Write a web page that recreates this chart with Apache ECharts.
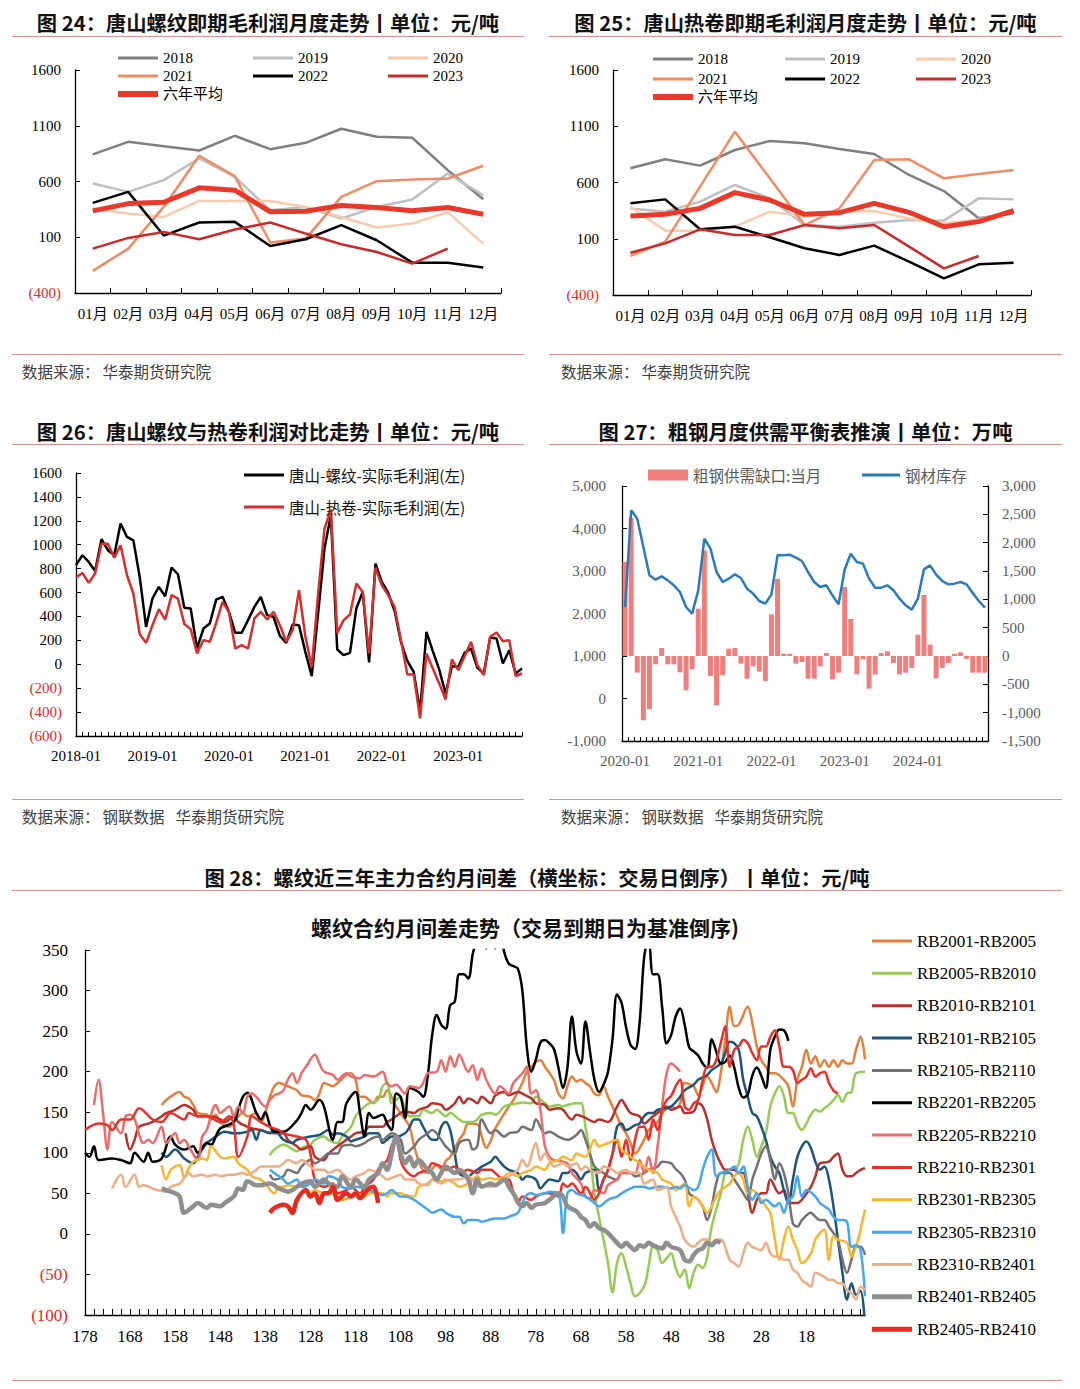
<!DOCTYPE html>
<html>
<head>
<meta charset="utf-8">
<title>华泰期货 钢材利润图表</title>
<script src="https://cdn.jsdelivr.net/npm/echarts/dist/echarts.min.js"></script>
<style>
html,body{margin:0;padding:0;background:#fff;}
body{position:relative;width:1080px;height:1389px;overflow:hidden;font-family:"Noto Sans CJK SC","Noto Sans",sans-serif;}
#chart{position:absolute;left:0;top:0;width:1080px;height:1389px;}
.t{position:absolute;font-weight:700;font-size:20.3px;line-height:24px;color:#111;text-align:center;white-space:nowrap;z-index:2;}
.st{font-size:21px;}
.rl{position:absolute;height:0;border-top:1.5px solid #D9918F;z-index:2;}
.src{position:absolute;font-size:15.5px;line-height:20px;color:#404040;white-space:nowrap;z-index:2;}
.gap{margin-left:11px;}
</style>
</head>
<body>
<div id="chart"></div>

<div class="t" style="left:12px;top:10px;width:512px;">图 24：唐山螺纹即期毛利润月度走势丨单位：元/吨</div>
<div class="t" style="left:549px;top:10px;width:513px;">图 25：唐山热卷即期毛利润月度走势丨单位：元/吨</div>
<div class="rl" style="left:12px;top:36px;width:512px;"></div>
<div class="rl" style="left:549px;top:36px;width:513px;"></div>
<div class="rl" style="left:12px;top:354px;width:512px;"></div>
<div class="rl" style="left:549px;top:354px;width:513px;"></div>
<div class="src" style="left:22px;top:361px;">数据来源：<span style="margin-left:3px">华泰期货研究院</span></div>
<div class="src" style="left:561px;top:361px;">数据来源：<span style="margin-left:3px">华泰期货研究院</span></div>

<div class="t" style="left:12px;top:419px;width:512px;">图 26：唐山螺纹与热卷利润对比走势丨单位：元/吨</div>
<div class="t" style="left:549px;top:419px;width:513px;">图 27：粗钢月度供需平衡表推演丨单位：万吨</div>
<div class="rl" style="left:12px;top:444px;width:512px;"></div>
<div class="rl" style="left:549px;top:444px;width:513px;"></div>
<div class="rl" style="left:12px;top:799px;width:512px;"></div>
<div class="rl" style="left:549px;top:799px;width:513px;"></div>
<div class="src" style="left:22px;top:806px;">数据来源：<span style="margin-left:3px">钢联数据</span><span class="gap">华泰期货研究院</span></div>
<div class="src" style="left:561px;top:806px;">数据来源：<span style="margin-left:3px">钢联数据</span><span class="gap">华泰期货研究院</span></div>

<div class="t" style="left:12px;top:865px;width:1050px;">图 28：螺纹近三年主力合约月间差（横坐标：交易日倒序）丨单位：元/吨</div>
<div class="rl" style="left:12px;top:890px;width:1050px;"></div>
<div class="t st" style="left:0px;top:915px;width:1050px;">螺纹合约月间差走势（交易到期日为基准倒序)</div>
<div class="rl" style="left:12px;top:1380px;width:1050px;"></div>

<script>
// ---------------- DATA ----------------
const monthCats = ['01月','02月','03月','04月','05月','06月','07月','08月','09月','10月','11月','12月'];
const yearNames = ['2018','2019','2020','2021','2022','2023'];
const avgName = '六年平均';

// 图24 唐山螺纹即期毛利润
const rebar2018 = [843,956,917,878,1010,890,947,1073,1001,992,702,441];
const rebar2019 = [582,507,612,807,642,342,372,268,372,438,672,477];
const rebar2020 = [357,312,282,426,426,426,372,282,187,223,325,43];
const rebar2021 = [-202,-2,372,831,648,52,88,462,603,618,627,741];
const rebar2022 = [408,507,115,232,238,22,82,208,73,-128,-128,-172];
const rebar2023 = [-2,94,148,82,169,232,133,37,-32,-137,-2];
const rebarAvg  = [337,402,414,543,522,328,334,385,367,337,367,307];

// 图25 唐山热卷即期毛利润
const hrc2018 = [726,806,750,889,969,948,898,853,667,524,282,326];
const hrc2019 = [370,341,430,578,459,222,207,243,267,261,459,450];
const hrc2020 = [385,172,172,207,341,296,341,347,281,237,272,350];
const hrc2021 = [-53,74,563,1052,637,222,370,800,806,637,676,711];
const hrc2022 = [415,450,184,207,113,15,-44,39,-104,-252,-127,-113];
const hrc2023 = [-24,59,184,133,133,222,193,222,30,-163,-53];
const hrcAvg  = [302,317,370,510,444,317,332,415,335,207,252,350];

// 图26 螺纹/热卷实际毛利润 (2018-01 起, 月度)
const profitRebar = [829,912,856,781,1046,954,912,1177,1065,1037,731,313,550,647,569,809,753,472,466,132,299,341,541,564,438,263,263,369,480,564,411,397,238,179,333,327,104,-99,425,968,1246,124,76,96,466,605,15,842,689,597,447,188,29,-63,-397,271,110,-43,-244,-16,-21,96,132,-30,-77,224,216,7,118,-77,-35];
const profitHrc = [725,764,681,759,1009,1009,892,996,745,592,252,179,327,461,374,578,550,336,294,90,202,188,347,522,438,132,160,132,383,438,374,438,327,188,285,619,230,-21,592,1135,1294,263,369,416,675,605,90,809,661,578,480,202,-85,-85,-453,90,-35,-160,-294,40,-49,68,188,-7,-91,230,266,193,202,-99,-77];
const names26 = ['唐山-螺纹-实际毛利润(左)','唐山-热卷-实际毛利润(左)'];

// 图27 粗钢供需缺口(右轴) / 钢材库存(左轴), 2020-01 起
const steelGap = [1659,2435,-294,-1135,-941,-147,141,-147,-147,-288,-606,-235,835,1865,-353,-870,-341,129,141,-135,-400,-182,-276,-441,735,1359,41,41,-135,-106,-400,-400,-182,53,-412,-294,1218,653,-324,-59,-576,-324,53,82,-124,-324,-294,-212,376,1076,200,-394,-212,-124,41,65,-53,-294,-294,-294];
const steelStock = [2150,4427,4231,3565,2898,2796,2875,2780,2663,2506,2153,1996,2545,3761,3525,2976,2741,2820,2922,2835,2584,2467,2294,2231,2451,3369,3369,3384,3314,3235,2976,2741,2624,2663,2427,2216,3031,3408,3212,3173,2820,2608,2608,2663,2545,2349,2192,2090,2349,3039,3133,2914,2765,2686,2702,2741,2686,2482,2294,2137];
const names27 = ['粗钢供需缺口:当月','钢材库存'];

// 图28 螺纹合约月间差: [距到期交易日, 价差]
const names28 = ['RB2001-RB2005','RB2005-RB2010','RB2010-RB2101','RB2101-RB2105','RB2105-RB2110','RB2201-RB2205','RB2205-RB2210','RB2210-RB2301','RB2301-RB2305','RB2305-RB2310','RB2310-RB2401','RB2401-RB2405','RB2405-RB2410'];
const rb2001 = [[161,159],[160,165],[158,173],[157,175],[156,169],[155,167],[154,159],[153,149],[151,147],[150,141],[149,147],[148,138],[146,132],[145,138],[143,149],[142,145],[140,149],[139,138],[137,169],[136,182],[135,186],[133,182],[131,177],[130,171],[128,169],[127,165],[126,173],[125,186],[123,182],[122,186],[120,196],[119,198],[118,190],[117,169],[116,169],[115,165],[114,161],[113,169],[112,169],[111,177],[109,157],[107,141],[106,132],[105,108],[104,90],[103,78],[102,75],[101,80],[100,85],[99,80],[98,90],[97,95],[95,116],[94,124],[93,136],[91,135],[90,120],[89,106],[88,115],[87,130],[84,157],[83,165],[81,186],[80,200],[79,206],[78,212],[77,214],[76,206],[74,190],[73,173],[72,167],[71,182],[70,194],[69,188],[68,190],[67,186],[66,182],[65,173],[64,171],[63,182],[62,169],[60,145],[59,132],[58,124],[57,112],[56,99],[54,116],[53,128],[51,138],[50,149],[48,157],[47,155],[46,161],[45,186],[43,182],[42,171],[40,194],[39,186],[38,175],[37,198],[36,239],[35,280],[34,256],[33,258],[31,280],[30,260],[29,231],[28,214],[27,206],[26,198],[25,198],[23,190],[22,182],[21,157],[20,190],[19,206],[18,227],[17,210],[16,219],[15,206],[14,214],[13,206],[12,214],[11,206],[10,214],[9,210],[8,210],[7,227],[6,243],[5,215]];
const rb2005 = [[137,97],[136,104],[134,110],[133,108],[131,102],[130,106],[128,110],[127,116],[125,120],[124,116],[122,112],[121,120],[119,132],[118,145],[116,157],[115,161],[113,165],[112,182],[111,186],[110,161],[109,165],[108,169],[107,153],[106,145],[104,145],[103,153],[101,149],[100,153],[98,145],[97,149],[95,141],[94,138],[92,138],[91,141],[90,147],[88,149],[87,147],[85,157],[84,159],[82,161],[81,162],[79,161],[78,169],[76,161],[75,157],[73,159],[72,157],[71,159],[69,161],[68,161],[67,132],[66,99],[65,50],[64,21],[63,-7],[62,-36],[61,-72],[60,-36],[59,-24],[58,-40],[57,-61],[56,-77],[54,-65],[53,-40],[52,-16],[51,-20],[50,-36],[49,-30],[48,-24],[47,-42],[46,-53],[45,-44],[44,-67],[43,-48],[42,-38],[41,-42],[40,-28],[39,9],[37,50],[36,75],[35,79],[34,79],[33,87],[32,116],[31,132],[30,116],[29,95],[28,108],[27,124],[26,157],[25,173],[24,182],[23,170],[22,149],[21,149],[20,136],[19,128],[18,136],[17,147],[16,153],[15,151],[14,155],[13,159],[12,165],[11,171],[10,163],[9,173],[8,175],[7,198],[5,200]];
const rb2010 = [[169,124],[168,104],[167,116],[166,132],[164,136],[163,138],[161,145],[160,149],[158,153],[156,159],[154,153],[153,145],[151,145],[150,145],[148,141],[147,138],[145,145],[144,138],[142,132],[141,130],[139,128],[138,126],[136,124],[134,124],[133,116],[131,108],[130,104],[128,108],[127,95],[125,91],[124,99],[122,108],[121,112],[119,120],[118,124],[116,126],[115,132],[113,132],[112,132],[111,138],[110,141],[108,149],[107,151],[105,149],[104,153],[102,157],[101,161],[99,159],[98,153],[96,161],[95,169],[94,161],[93,167],[92,165],[91,161],[90,169],[88,161],[87,171],[85,175],[84,171],[82,175],[81,173],[79,167],[78,161],[76,159],[75,153],[73,155],[72,153],[70,141],[69,147],[67,143],[65,138],[64,141],[62,138],[60,157],[59,165],[58,157],[57,149],[55,145],[54,136],[52,145],[51,149],[49,157],[48,153],[46,157],[45,149],[43,151],[42,161],[41,157],[40,141],[39,116],[38,99],[37,87],[36,79],[34,79],[33,75],[32,75],[31,50],[30,26],[29,42],[28,50],[27,50],[26,67],[24,50],[23,54],[22,38],[21,38],[20,38],[19,42],[17,58],[16,71],[15,87],[13,89],[12,95],[11,99],[10,79],[9,71],[8,71],[7,75],[6,79],[5,81]];
const rb2101 = [[161,100],[160,95],[158,104],[156,93],[154,87],[153,95],[151,112],[150,116],[148,124],[147,126],[145,124],[144,124],[142,126],[141,128],[140,116],[139,128],[137,124],[136,128],[134,116],[132,112],[131,116],[128,120],[126,122],[124,128],[123,122],[122,124],[120,120],[119,114],[118,116],[116,120],[115,124],[113,124],[112,112],[111,116],[110,120],[109,120],[107,124],[106,132],[105,141],[104,141],[103,132],[101,116],[100,116],[99,132],[98,138],[97,128],[96,99],[95,75],[93,71],[92,75],[91,79],[90,83],[88,89],[87,95],[86,89],[85,83],[84,79],[82,75],[81,67],[80,71],[78,67],[77,56],[76,62],[75,67],[73,65],[72,75],[71,75],[70,79],[69,75],[68,67],[67,75],[65,79],[64,54],[63,67],[62,79],[61,99],[60,132],[59,136],[58,128],[56,134],[55,136],[54,145],[53,149],[52,149],[51,153],[49,155],[48,157],[46,169],[45,177],[43,184],[42,190],[40,196],[39,202],[37,210],[36,223],[35,237],[34,235],[33,227],[32,190],[31,169],[30,149],[29,145],[28,132],[27,116],[26,95],[25,83],[24,75],[23,54],[22,38],[21,67],[20,95],[19,108],[18,114],[17,106],[16,89],[15,79],[14,83],[13,67],[12,34],[11,-7],[10,-48],[9,-81],[8,-61],[7,-75],[6,-70],[5,-115]];
const rb2105 = [[137,73],[136,67],[134,71],[133,79],[131,75],[130,83],[128,91],[127,87],[125,95],[124,99],[122,99],[121,108],[119,110],[118,108],[116,112],[115,116],[113,120],[112,116],[111,120],[110,124],[108,116],[107,99],[105,108],[104,116],[102,124],[101,128],[99,116],[98,108],[96,99],[95,112],[93,116],[92,104],[91,108],[90,141],[88,124],[87,128],[85,120],[84,124],[82,126],[81,132],[79,128],[78,141],[76,124],[75,126],[73,120],[71,116],[69,122],[68,128],[67,116],[66,99],[65,83],[63,75],[62,71],[60,67],[59,75],[57,75],[56,71],[54,75],[53,79],[51,83],[50,89],[48,87],[47,80],[46,75],[45,67],[44,50],[43,46],[42,42],[41,34],[40,17],[39,34],[38,62],[37,75],[35,75],[34,67],[32,50],[31,42],[30,67],[29,83],[28,99],[27,108],[26,91],[25,67],[24,87],[23,75],[22,50],[21,13],[20,9],[19,17],[17,26],[16,21],[15,17],[14,17],[13,9],[12,1],[11,-7],[10,-32],[9,-48],[8,-32],[7,-16],[6,-16],[5,-26]];
const rb2201 = [[178,100],[177,95],[176,108],[175,91],[172,93],[170,91],[168,87],[167,100],[165,89],[164,100],[163,89],[161,93],[159,120],[158,110],[156,104],[154,108],[153,100],[151,112],[150,110],[149,120],[148,130],[145,138],[144,153],[143,169],[142,174],[140,149],[139,141],[138,150],[137,134],[136,126],[134,126],[131,140],[130,149],[129,159],[128,153],[126,165],[125,157],[123,116],[122,138],[121,138],[120,161],[118,175],[117,149],[116,120],[115,149],[114,143],[112,147],[111,136],[110,128],[109,173],[108,169],[107,143],[106,180],[104,175],[103,169],[102,194],[101,245],[100,270],[99,258],[98,253],[97,282],[96,286],[95,320],[94,320],[93,315],[92,345],[91,365],[90,380],[89,352],[88,370],[87,352],[86,375],[85,347],[84,333],[83,330],[82,327],[81,300],[80,230],[79,200],[78,215],[77,236],[76,239],[75,235],[74,228],[73,205],[72,180],[71,205],[70,268],[69,225],[68,210],[67,262],[66,225],[65,190],[64,175],[63,184],[62,200],[61,240],[60,295],[59,285],[58,255],[57,233],[56,228],[55,260],[54,340],[53,365],[52,320],[51,320],[50,280],[49,235],[48,245],[47,268],[46,278],[45,258],[44,230],[43,225],[42,220],[41,210],[40,205],[39,240],[38,225],[37,210],[36,212],[35,220],[34,205],[33,180],[32,168],[31,172],[30,195],[29,205],[28,195],[27,180],[26,227],[25,243],[24,252],[23,251],[22,238]];
const rb2205 = [[176,159],[175,190],[174,149],[173,104],[172,138],[170,124],[169,145],[168,147],[167,141],[165,112],[164,116],[163,112],[161,132],[160,112],[158,124],[157,112],[156,116],[155,108],[153,91],[152,120],[151,128],[149,159],[148,149],[146,157],[145,145],[144,157],[143,149],[142,169],[141,173],[140,169],[138,157],[137,165],[136,171],[135,173],[134,177],[133,190],[132,198],[131,186],[130,198],[129,206],[127,221],[126,210],[125,200],[123,196],[122,190],[120,198],[119,194],[117,192],[116,196],[114,194],[112,200],[111,186],[110,182],[109,184],[107,173],[106,182],[104,180],[103,186],[102,198],[100,200],[99,214],[98,200],[97,219],[96,206],[95,221],[93,200],[92,208],[91,190],[90,204],[89,190],[87,173],[86,182],[84,173],[83,186],[81,198],[80,206],[79,173],[78,177],[77,153],[76,108],[75,95],[74,91],[72,89],[71,87],[70,75],[68,62],[67,46],[66,44],[65,54],[63,50],[62,60],[60,67],[59,75],[58,75],[56,75],[55,91],[54,75],[53,95],[52,75],[51,108],[50,157],[49,198],[48,210],[47,206],[46,200]];
const rb2210 = [[178,128],[175,136],[173,134],[172,128],[170,141],[168,141],[166,155],[163,141],[161,138],[159,149],[156,141],[155,149],[153,145],[151,145],[148,138],[146,145],[145,134],[144,95],[142,120],[141,145],[139,138],[137,132],[135,128],[134,124],[131,120],[129,116],[128,99],[127,67],[125,58],[123,62],[122,50],[120,54],[119,58],[117,50],[116,58],[114,67],[113,79],[111,91],[110,108],[109,120],[108,91],[107,79],[105,71],[104,75],[102,79],[101,87],[99,83],[98,79],[96,83],[95,75],[93,79],[91,75],[90,79],[88,79],[87,75],[85,67],[84,67],[83,50],[82,38],[81,46],[79,42],[78,46],[76,50],[75,50],[73,46],[72,62],[71,58],[70,62],[68,50],[67,58],[65,42],[64,50],[63,67],[62,79],[61,99],[60,116],[59,95],[58,116],[57,91],[56,116],[55,132],[54,132],[53,116],[52,141],[51,128],[50,153],[49,165],[48,170],[47,182],[46,190],[45,157],[44,153],[43,161],[42,165],[41,190],[40,206],[39,206],[38,214],[37,235],[36,256],[35,206],[34,227],[33,231],[32,239],[31,235],[30,223],[29,214],[28,231],[27,231],[26,243],[25,251],[24,231],[23,206],[22,206],[21,202],[20,186],[19,190],[18,194],[17,204],[16,194],[15,198],[14,200],[13,186],[12,177],[11,173]];
const rb2301 = [[161,85],[160,67],[159,79],[157,85],[156,69],[155,81],[154,89],[152,93],[151,91],[150,108],[148,95],[147,93],[145,95],[144,87],[142,79],[141,71],[139,67],[138,62],[136,50],[135,58],[134,58],[133,60],[131,58],[130,60],[128,50],[127,54],[125,50],[124,52],[122,46],[121,42],[119,46],[118,50],[116,46],[115,50],[113,50],[112,50],[111,46],[110,50],[108,50],[107,48],[105,46],[104,58],[102,62],[101,67],[99,65],[98,67],[96,62],[95,58],[93,62],[92,67],[91,71],[90,67],[88,69],[87,67],[85,71],[84,75],[82,71],[81,75],[79,79],[78,83],[76,79],[75,87],[73,91],[72,95],[70,91],[69,99],[67,95],[65,116],[64,108],[62,112],[60,116],[59,104],[57,95],[56,91],[54,83],[53,79],[51,75],[50,67],[48,62],[47,54],[46,58],[45,62],[44,34],[43,46],[42,42],[41,34],[40,26],[39,34],[38,46],[37,54],[35,62],[34,71],[33,75],[32,67],[31,50],[30,54],[28,42],[27,34],[26,26],[25,-7],[24,-32],[23,-7],[22,9],[21,-7],[20,-20],[19,-36],[17,-24],[16,-7],[15,1],[14,5],[13,-32],[12,-3],[11,-7],[9,-11],[8,-28],[7,-16],[6,5],[5,30]];
const rb2305 = [[137,79],[136,75],[134,67],[133,62],[131,67],[130,58],[128,62],[127,67],[125,62],[124,71],[122,67],[121,58],[119,56],[118,58],[116,56],[115,54],[113,50],[112,48],[111,50],[110,54],[108,46],[107,46],[105,42],[104,38],[102,30],[101,26],[99,30],[98,26],[96,21],[95,21],[94,13],[93,17],[91,17],[90,15],[88,18],[87,19],[85,19],[84,21],[82,26],[81,38],[80,48],[79,50],[78,48],[76,50],[75,52],[73,50],[72,1],[71,50],[70,54],[69,50],[67,46],[65,38],[64,34],[62,42],[60,46],[59,50],[57,56],[56,58],[54,58],[53,56],[51,58],[50,58],[48,56],[47,58],[46,56],[45,60],[43,54],[42,58],[41,79],[40,95],[39,104],[38,71],[37,75],[35,79],[34,83],[33,75],[32,83],[31,58],[30,42],[29,50],[28,38],[27,42],[25,34],[24,38],[23,26],[22,42],[21,46],[20,71],[19,46],[18,54],[16,46],[15,38],[14,34],[13,30],[12,21],[11,17],[10,17],[9,15],[8,-16],[7,-14],[6,-20],[5,-77]];
const rb2310 = [[172,56],[170,73],[169,58],[167,73],[166,58],[165,60],[163,56],[162,54],[160,52],[159,58],[157,62],[156,69],[155,75],[154,71],[152,73],[151,71],[149,73],[148,71],[146,73],[145,73],[143,75],[142,73],[140,79],[139,83],[137,83],[135,83],[134,87],[133,91],[131,87],[130,91],[128,83],[127,79],[125,79],[124,75],[122,79],[121,75],[119,67],[118,71],[116,75],[115,79],[113,75],[112,71],[111,67],[110,69],[108,73],[107,67],[105,67],[104,62],[102,60],[101,67],[99,62],[98,65],[96,67],[95,67],[93,71],[92,67],[91,58],[90,60],[88,58],[87,60],[85,67],[84,71],[82,79],[81,91],[80,83],[78,112],[77,91],[76,99],[75,91],[74,83],[72,87],[71,83],[69,87],[68,79],[67,83],[66,79],[64,75],[63,83],[61,79],[60,75],[58,79],[57,75],[55,75],[54,62],[52,67],[51,54],[49,58],[48,34],[46,9],[45,-7],[43,-16],[42,-11],[41,-7],[40,-7],[39,-11],[38,-7],[37,-7],[35,-32],[34,-36],[33,-40],[32,-24],[31,-11],[30,-16],[28,-20],[27,-11],[26,-24],[25,-28],[24,-28],[23,-32],[22,-32],[21,-44],[20,-48],[19,-57],[18,-61],[17,-65],[16,-48],[14,-53],[13,-57],[12,-57],[11,-61],[10,-61],[9,-69],[8,-73],[7,-81],[6,-65],[5,-69]];
const rb2401 = [[161,56],[160,54],[158,50],[157,46],[156,26],[154,34],[153,38],[151,32],[150,36],[148,34],[147,38],[145,46],[144,56],[143,54],[142,65],[140,60],[139,60],[137,62],[135,56],[134,54],[133,52],[131,58],[130,62],[128,65],[127,58],[125,67],[124,62],[122,58],[121,71],[119,58],[118,67],[116,58],[115,67],[113,75],[112,87],[111,79],[110,99],[109,120],[108,99],[107,87],[106,95],[105,83],[104,91],[102,79],[101,75],[100,67],[99,75],[98,83],[96,75],[95,79],[93,67],[92,50],[91,67],[90,58],[88,62],[87,60],[85,67],[84,58],[83,50],[81,34],[80,38],[79,32],[78,36],[76,38],[75,42],[73,50],[72,46],[71,34],[69,28],[68,21],[67,17],[66,9],[65,13],[64,7],[63,5],[62,1],[60,-11],[59,-16],[58,-11],[57,-16],[56,-20],[55,-14],[54,-16],[53,-11],[52,-14],[50,-18],[49,-11],[48,-16],[46,-20],[45,-32],[44,-34],[43,-26],[42,-20],[41,-18],[40,-11],[39,-14],[38,-9],[37,-11]];
const rb2405 = [[137,26],[136,32],[134,36],[133,34],[132,26],[131,42],[129,54],[128,46],[127,50],[126,38],[125,50],[124,50],[123,58],[122,42],[120,50],[119,46],[118,50],[117,44],[116,50],[115,56],[114,58],[113,38]];
const dayFirst = 178, dayLast = 5;
const dayTicks = Array.from({length: dayFirst - dayLast + 1}, (_, i) => String(dayFirst - i));

// ---------------- STYLE ----------------
const SERIF = '"Liberation Serif","Noto Sans CJK SC",serif';
const SANS = '"Noto Sans CJK SC","Noto Sans",sans-serif';
const yearColors = ['#7F7F7F','#BFBFBF','#F8CBAD','#EE8C64','#000000','#C92B2B'];
const avgColor = '#E8392B';
const colors28 = ['#E2813E','#95CB55','#B8302A','#1F5479','#767171','#000000','#EC6B6B','#E8302A','#F5B630','#45A6EE','#ECAE85','#8E8E8E','#E8291F'];
const widths28 = [2.5,2.5,2.5,2.5,2.5,2.5,2.5,2.5,2.5,2.5,2.5,4.5,4.5];
const data28 = [rb2001,rb2005,rb2010,rb2101,rb2105,rb2201,rb2205,rb2210,rb2301,rb2305,rb2310,rb2401,rb2405];

function monthSeq(y0, n){ const out=[]; for(let i=0;i<n;i++){ const y=y0+Math.floor(i/12), m=i%12+1; out.push(y+'-'+(m<10?'0':'')+m);} return out; }
const months26 = monthSeq(2018, profitRebar.length);
const months27 = monthSeq(2020, steelGap.length);

const negFmt = v => { v = Number(v); return v < 0 ? '(' + (-v) + ')' : String(v); };
const negColor = v => Number(v) < 0 ? '#EE2424' : '#000';
const thou = v => Number(v).toLocaleString('en-US');
const AX = {show:true, onZero:false, lineStyle:{color:'#000', width:1.3}};
const TICK_IN = (len, interval) => ({show:true, inside:true, length:len, interval: interval === undefined ? 'auto' : interval, lineStyle:{color:'#000', width:1}});

function catX(grid, data, extra){
  return Object.assign({type:'category', gridIndex:grid, data:data, axisLine:AX, splitLine:{show:false}}, extra);
}
function valY(grid, min, max, interval, label, extra){
  return Object.assign({type:'value', gridIndex:grid, min:min, max:max, interval:interval, axisLine:AX,
    axisTick:TICK_IN(5), splitLine:{show:false}, axisLabel:label}, extra||{});
}
function lineS(name, xi, yi, data, color, width, extra){
  return Object.assign({type:'line', name:name, xAxisIndex:xi, yAxisIndex:yi, data:data, color:color,
    showSymbol:false, symbol:'none', lineStyle:{color:color, width:width}, emphasis:{disabled:true}, animation:false}, extra||{});
}
function leg(name, x, y, h, fs, color, font, w){
  const boxH = Math.max(h, fs);
  return {data:[name], left:x, top:y - boxH/2, itemWidth:w||40, itemHeight:h, icon:'rect', padding:0, itemGap:0,
    selectedMode:false, textStyle:{fontSize:fs, color:color, fontFamily:font}};
}

// ---------------- OPTION ----------------
const grids = [
  {left:75, top:70, width:426, height:223},
  {left:613, top:70, width:418, height:225},
  {left:76, top:473, width:446, height:263},
  {left:622, top:486, width:366, height:255},
  {left:85, top:950, width:780, height:365}
];

const xAxes = [
  catX(0, monthCats, {boundaryGap:true, axisTick:TICK_IN(5,0), axisLabel:{show:true, interval:0, fontSize:15, margin:13, color:'#000', fontFamily:SERIF}}),
  catX(1, monthCats, {boundaryGap:true, axisTick:TICK_IN(5,0), axisLabel:{show:true, interval:0, fontSize:15, margin:13, color:'#000', fontFamily:SERIF}}),
  catX(2, months26, {boundaryGap:false, axisTick:TICK_IN(4,0), axisLabel:{show:true, interval:11, fontSize:15, margin:12, color:'#000', fontFamily:SERIF}}),
  catX(3, months27, {boundaryGap:true, axisTick:TICK_IN(4,0), axisLabel:{show:true, interval:11, fontSize:15, margin:12, color:'#595959', fontFamily:SERIF}}),
  catX(4, dayTicks, {boundaryGap:false, axisTick:TICK_IN(6, i => i % 2 === 0),
    axisLabel:{show:true, interval:(i) => i % 10 === 0 && i <= 160, fontSize:17, margin:13, color:'#000', fontFamily:SERIF}})
];

const yLabelNeg = (fs, margin) => ({show:true, formatter:negFmt, color:negColor, fontSize:fs, margin:margin, fontFamily:SERIF});
const yAxes = [
  valY(0, -400, 1600, 500, yLabelNeg(15, 14)),
  valY(1, -400, 1600, 500, yLabelNeg(15, 14)),
  valY(2, -600, 1600, 200, yLabelNeg(15, 14)),
  valY(3, -1000, 5000, 1000, {show:true, formatter:thou, color:'#595959', fontSize:15, margin:16, fontFamily:SERIF}),
  valY(3, -1500, 3000, 500, {show:true, formatter:thou, color:'#595959', fontSize:15, margin:14, fontFamily:SERIF}, {position:'right'}),
  valY(4, -100, 350, 50, yLabelNeg(17, 17))
];

const series = [];
const rebarYears = [rebar2018, rebar2019, rebar2020, rebar2021, rebar2022, rebar2023];
const hrcYears = [hrc2018, hrc2019, hrc2020, hrc2021, hrc2022, hrc2023];
yearNames.forEach((n, i) => series.push(lineS(n, 0, 0, rebarYears[i], yearColors[i], 2.5)));
series.push(lineS(avgName, 0, 0, rebarAvg, avgColor, 5));
yearNames.forEach((n, i) => series.push(lineS(n, 1, 1, hrcYears[i], yearColors[i], 2.5)));
series.push(lineS(avgName, 1, 1, hrcAvg, avgColor, 5));

series.push(lineS(names26[0], 2, 2, profitRebar, '#000000', 2.5));
series.push(lineS(names26[1], 2, 2, profitHrc, '#D62D2D', 2.5));

series.push({type:'bar', name:names27[0], xAxisIndex:3, yAxisIndex:4, data:steelGap, color:'#F07F7B',
  barCategoryGap:'18%', itemStyle:{color:'#F07F7B'}, emphasis:{disabled:true}, animation:false, z:2});
series.push(lineS(names27[1], 3, 3, steelStock, '#2B7BB9', 2.5, {z:3}));

names28.forEach((n, i) => {
  series.push(lineS(n, 4, 5, data28[i].map(p => [String(p[0]), p[1]]), colors28[i], widths28[i], {smooth:0.35, connectNulls:true}));
});

const legends = [];
const legPos24 = {x:[118,253,388], y:[58,76,94]};
const legPos25 = {x:[653,785,916], y:[59,79,97]};
[legPos24, legPos25].forEach(p => {
  yearNames.forEach((n, i) => {
    legends.push(leg(n, p.x[i % 3], p.y[Math.floor(i / 3)], 3, 15, '#000', SERIF));
  });
  legends.push(leg(avgName, p.x[0], p.y[2], 6, 15, '#000', SERIF));
});
legends.push(leg(names26[0], 244, 475, 3, 15.5, '#111', SANS));
legends.push(leg(names26[1], 244, 507, 3, 15.5, '#111', SANS));
legends.push(leg(names27[0], 648, 475, 11, 15.5, '#595959', SANS));
legends.push(leg(names27[1], 862, 475, 3, 15.5, '#595959', SANS, 38));
names28.forEach((n, i) => {
  legends.push(leg(n, 872, 941 + i * 32.35, widths28[i] > 3 ? 5 : 3, 17, '#000', SERIF));
});

const option = {
  backgroundColor:'transparent',
  animation:false,
  grid:grids,
  xAxis:xAxes,
  yAxis:yAxes,
  legend:legends,
  series:series
};

const chart = echarts.init(document.getElementById('chart'), null, {renderer:'svg'});
chart.setOption(option);
</script>
</body>
</html>
